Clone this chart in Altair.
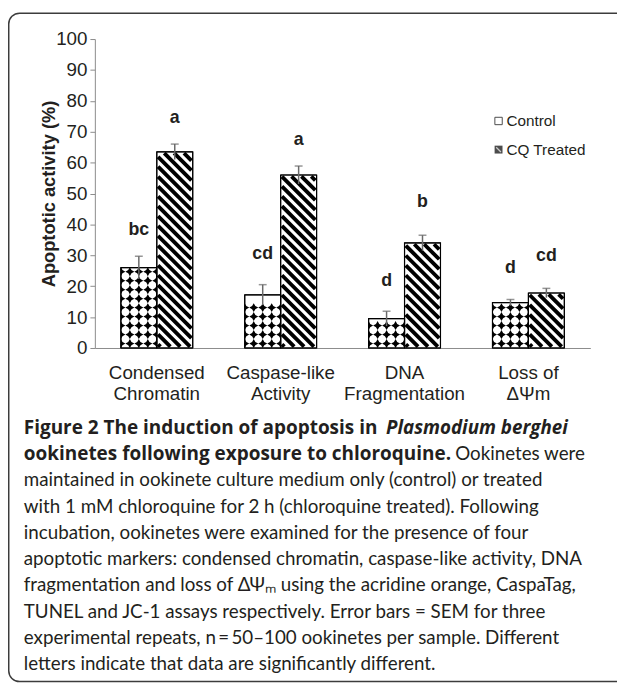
import altair as alt
import pandas as pd

# ---------------- data ----------------
categories = ["Condensed\nChromatin", "Caspase-like\nActivity", "DNA\nFragmentation", "Loss of\nΔΨm"]
series = ["Control", "CQ Treated"]
control = [26.0, 17.2, 9.5, 14.7]
control_sem = [3.7, 3.3, 2.4, 1.0]
treated = [63.5, 56.0, 34.0, 17.8]
treated_sem = [2.5, 2.9, 2.5, 1.5]
control_letters = ["bc", "cd", "d", "d"]
treated_letters = ["a", "a", "b", "cd"]
control_letter_y = [38.3, 30.4, 21.7, 26.0]
treated_letter_y = [74.4, 67.4, 47.3, 29.7]
y_ticks = [0, 10, 20, 30, 40, 50, 60, 70, 80, 90, 100]
y_title = "Apoptotic activity (%)"

caption_title_bold = "Figure 2 The induction of apoptosis in"
caption_title_italic = "Plasmodium berghei"
caption_l2_bold = "ookinetes following exposure to chloroquine."
caption_l2_regular = "Ookinetes were"
caption_body = [
    "maintained in ookinete culture medium only (control) or treated",
    "with 1 mM chloroquine for 2 h (chloroquine treated). Following",
    "incubation, ookinetes were examined for the presence of four",
    "apoptotic markers: condensed chromatin, caspase-like activity, DNA",
    "fragmentation and loss of ΔΨₘ using the acridine orange, CaspaTag,",
    "TUNEL and JC-1 assays respectively. Error bars = SEM for three",
    "experimental repeats, n\u2009=\u200950–100 ookinetes per sample. Different",
    "letters indicate that data are significantly different.",
]

# ---------------- layout constants ----------------
W, H = 502, 313
PAD_L, PAD_T = 88, 27
SVG_W, SVG_H = 617, 679
PX_X = W / 4.0
PX_Y = H / 100.0
BAR_PX = 36.4
BW = BAR_PX / PX_X
FONT = "Liberation Sans"
CAP_FONT = "Lato"
CAP_SIZE = 19
BOLD_FONT = "Open Sans"
BOLD_SIZE = 19.2
ORIG_X, ORIG_Y = PAD_L + 8, PAD_T + 8  # page position of plot origin
INK = "#231f20"
AXIS_GREY = "#8a8a8a"

# ---------------- derived tables ----------------
rows = []
for i in range(len(categories)):
    for s, vals, sems, lets, lys, off in [
        (series[0], control, control_sem, control_letters, control_letter_y, -BW),
        (series[1], treated, treated_sem, treated_letters, treated_letter_y, 0.0),
    ]:
        x0 = i + off
        rows.append(dict(series=s, x0=x0, x1=x0 + BW, xc=x0 + BW / 2, v=vals[i],
                         lo=vals[i] - sems[i], hi=vals[i] + sems[i], base=0.0,
                         letter=lets[i], ly=lys[i]))
bars_df = pd.DataFrame(rows)
cat_df = pd.DataFrame({"idx": list(range(len(categories))), "label": categories})

# dotted pattern for control bars
STEP = BAR_PX / 4
stars, half_r, half_l = [], [], []
for i, v in enumerate(control):
    x0 = i - BW
    h = v * PX_Y
    yp = 4.5
    while yp + 4.0 <= h:
        for k in range(1, 4):
            stars.append(dict(x=x0 + k * STEP / PX_X, y=yp / PX_Y))
        half_r.append(dict(x=x0, y=yp / PX_Y))
        half_l.append(dict(x=x0 + BW, y=yp / PX_Y))
        yp += STEP
stars_df = pd.DataFrame(stars)
half_r_df = pd.DataFrame(half_r)
half_l_df = pd.DataFrame(half_l)

# diagonal hatch for treated bars
PERIOD = 10.0
INS = 1.3
stripes = []
for i, v in enumerate(treated):
    x0 = i
    w = BAR_PX
    h = v * PX_Y
    c = PERIOD / 2
    while c < w + h:
        xa = max(INS, c - (h - INS))
        xb = min(w - INS, c - INS)
        if xb > xa:
            stripes.append(dict(x=x0 + xa / PX_X, y=(c - xa) / PX_Y,
                                x2=x0 + xb / PX_X, y2=(c - xb) / PX_Y))
        c += PERIOD
stripes_df = pd.DataFrame(stripes)

xscale = alt.Scale(domain=[-0.5, 3.5], nice=False, zero=False)
yscale = alt.Scale(domain=[0, 100], nice=False, zero=False)

x_axis = alt.Axis(labels=False, ticks=False, title="", grid=False, domainColor=AXIS_GREY)
y_axis = alt.Axis(values=y_ticks, title=y_title, grid=False, tickSize=5,
                  tickColor=AXIS_GREY, domainColor=AXIS_GREY,
                  labelFont=FONT, labelFontSize=19, labelColor=INK,
                  labelPadding=3, titleFont=FONT, titleFontSize=18.5,
                  titleFontWeight="bold", titleColor=INK,
                  titleX=-47, titleY=H / 2, titleAngle=270, titleAlign="center",
                  titleBaseline="middle")


def X(field):
    return alt.X(field, type="quantitative", scale=xscale, axis=x_axis)


def Y(field):
    return alt.Y(field, type="quantitative", scale=yscale, axis=y_axis)


bars = alt.Chart(bars_df).mark_rect(fill="white", stroke="black", strokeWidth=1).encode(
    x=X("x0"), x2="x1:Q", y=Y("v"), y2="base:Q",
)

STAR = "M0,-1 L0.36,-0.36 L1,0 L0.36,0.36 L0,1 L-0.36,0.36 L-1,0 L-0.36,-0.36 Z"
STAR_R = "M0,-1 L0.36,-0.36 L1,0 L0.36,0.36 L0,1 Z"
STAR_L = "M0,-1 L-0.36,-0.36 L-1,0 L-0.36,0.36 L0,1 Z"
star_size = STEP * STEP


def pts(df, shape):
    return alt.Chart(df).mark_point(shape=shape, filled=True, color="black",
                                    size=star_size, opacity=1, strokeWidth=0).encode(
        x=X("x"), y=Y("y"),
    )


hatch = alt.Chart(stripes_df).mark_rule(color="black", strokeWidth=3.9, strokeCap="butt").encode(
    x=X("x"), x2="x2:Q", y=Y("y"), y2="y2:Q",
)

outline = alt.Chart(bars_df).mark_rect(filled=False, stroke="black", strokeWidth=1.2).encode(
    x=X("x0"), x2="x1:Q", y=Y("v"), y2="base:Q",
)

err = alt.Chart(bars_df).mark_rule(color="#6a6a6a", strokeWidth=1.5).encode(
    x=X("xc"), y=Y("lo"), y2="hi:Q",
)
cap = alt.Chart(bars_df).mark_tick(orient="horizontal", size=8, thickness=1.5, color="#6a6a6a").encode(
    x=X("xc"), y=Y("hi"),
)

letters = alt.Chart(bars_df).mark_text(font=FONT, fontSize=18, fontWeight="bold",
                                       color=INK, baseline="middle").encode(
    x=X("xc"), y=Y("ly"), text="letter:N",
)

cat_labels = alt.Chart(cat_df).mark_text(font=FONT, fontSize=19, color=INK, baseline="top",
                                         lineBreak="\n", lineHeight=21.5).encode(
    x=X("idx"), y=alt.value(364 - ORIG_Y), text="label:N",
)

# ---------------- legend ----------------
LEG_BOX_X = 505 - ORIG_X
LEG_Y = [118 - ORIG_Y, 147 - ORIG_Y]
one = pd.DataFrame({"k": [0]})
leg_ctrl_box = alt.Chart(one).mark_point(shape="square", filled=True, fill="white",
                                         stroke="black", strokeWidth=1, size=56).encode(
    x=alt.value(LEG_BOX_X), y=alt.value(LEG_Y[0]))
leg_trt_box = alt.Chart(one).mark_point(shape="square", filled=True, color="black",
                                        size=64, strokeWidth=0).encode(
    x=alt.value(LEG_BOX_X), y=alt.value(LEG_Y[1]))
leg_trt_line = alt.Chart(one).mark_point(shape="M-0.6,-0.6 L0.6,0.6", filled=False,
                                         stroke="white", strokeWidth=1.3, size=64).encode(
    x=alt.value(LEG_BOX_X), y=alt.value(LEG_Y[1]))
leg_text = [
    alt.Chart(pd.DataFrame({"label": [series[j]]})).mark_text(
        font=FONT, fontSize=15.5, color=INK, align="left", baseline="middle").encode(
        x=alt.value(513 - ORIG_X), y=alt.value(LEG_Y[j]), text="label:N")
    for j in range(2)
]

# ---------------- caption ----------------
LINE0 = 429
LSTEP = 26.6
CAP_LEFT = 24 - ORIG_X


def cap_text(text, x, y, align="left", **kw):
    return alt.Chart(pd.DataFrame({"t": [text]})).mark_text(
        color=INK, align=align, baseline="middle", **kw).encode(
        x=alt.value(x), y=alt.value(y), text="t:N")


cap_l1a = cap_text(caption_title_bold, CAP_LEFT, LINE0 - ORIG_Y,
                   font=BOLD_FONT, fontSize=BOLD_SIZE, fontWeight="bold")
cap_l1b = cap_text(caption_title_italic, 391 - ORIG_X, LINE0 - ORIG_Y,
                   font=BOLD_FONT, fontSize=19, fontWeight="bold", fontStyle="italic")
cap_l2a = cap_text(caption_l2_bold, CAP_LEFT, LINE0 + LSTEP - ORIG_Y,
                   font=BOLD_FONT, fontSize=BOLD_SIZE, fontWeight="bold")
cap_l2b = cap_text(caption_l2_regular, 461 - ORIG_X, LINE0 + LSTEP - ORIG_Y,
                   font=CAP_FONT, fontSize=CAP_SIZE)
cap_body = alt.Chart(pd.DataFrame({"t": ["\n".join(caption_body)]})).mark_text(
    font=CAP_FONT, fontSize=CAP_SIZE, color=INK, align="left", baseline="middle",
    lineBreak="\n", lineHeight=LSTEP).encode(
    x=alt.value(CAP_LEFT), y=alt.value(LINE0 + 2 * LSTEP - ORIG_Y), text="t:N")

# ---------------- frame ----------------
frame = alt.Chart(one).mark_rect(filled=False, stroke="#3c3c3c", strokeWidth=1.5,
                                 cornerRadius=11).encode(
    x=alt.value(0.75 - PAD_L), x2=alt.value(SVG_W + 30 - PAD_L),
    y=alt.value(0.75 - PAD_T), y2=alt.value(686 - ORIG_Y),
)

chart = alt.layer(
    bars, pts(stars_df, STAR), pts(half_r_df, STAR_R), pts(half_l_df, STAR_L), hatch, outline,
    err, cap, letters, cat_labels, leg_ctrl_box, leg_trt_box, leg_trt_line, *leg_text,
    cap_l1a, cap_l1b, cap_l2a, cap_l2b, cap_body, frame,
).properties(
    width=W, height=H,
    padding={"left": PAD_L, "top": PAD_T, "right": SVG_W - W - PAD_L, "bottom": SVG_H - H - PAD_T},
    autosize=alt.AutoSizeParams(type="none"),
    background="white",
).configure_view(strokeWidth=0)

chart.save("out.html", embed_options={"renderer": "svg", "actions": False})
